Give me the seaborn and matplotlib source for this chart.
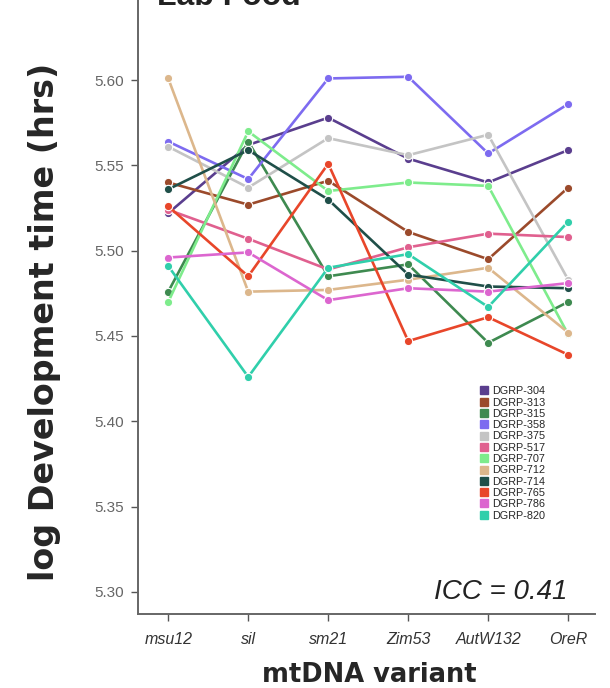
import matplotlib
matplotlib.use("Agg")
import matplotlib.pyplot as plt
import seaborn as sns
import pandas as pd
from matplotlib.lines import Line2D

variants = ['msu12', 'sil', 'sm21', 'Zim53', 'AutW132', 'OreR']
lines = ['DGRP-304', 'DGRP-313', 'DGRP-315', 'DGRP-358', 'DGRP-375', 'DGRP-517',
         'DGRP-707', 'DGRP-712', 'DGRP-714', 'DGRP-765', 'DGRP-786', 'DGRP-820']
colors = ['#5a3e8e', '#9b4a2b', '#3e8a50', '#7d6bf0', '#c4c4c4', '#e0608f',
          '#7eec8c', '#dcb78c', '#1f4f49', '#e8462a', '#dc66cf', '#30cfab']

# log development time per DGRP line, one value per mtDNA variant
dgrp_304 = [5.522, 5.562, 5.578, 5.554, 5.540, 5.559]
dgrp_313 = [5.540, 5.527, 5.541, 5.511, 5.495, 5.537]
dgrp_315 = [5.476, 5.564, 5.485, 5.492, 5.446, 5.470]
dgrp_358 = [5.564, 5.542, 5.601, 5.602, 5.557, 5.586]
dgrp_375 = [5.561, 5.537, 5.566, 5.556, 5.568, 5.483]
dgrp_517 = [5.524, 5.507, 5.489, 5.502, 5.510, 5.508]
dgrp_707 = [5.470, 5.570, 5.535, 5.540, 5.538, 5.451]
dgrp_712 = [5.601, 5.476, 5.477, 5.483, 5.490, 5.452]
dgrp_714 = [5.536, 5.559, 5.530, 5.486, 5.479, 5.478]
dgrp_765 = [5.526, 5.485, 5.551, 5.447, 5.461, 5.439]
dgrp_786 = [5.496, 5.499, 5.471, 5.478, 5.476, 5.481]
dgrp_820 = [5.491, 5.426, 5.490, 5.498, 5.467, 5.517]

all_values = [dgrp_304, dgrp_313, dgrp_315, dgrp_358, dgrp_375, dgrp_517,
              dgrp_707, dgrp_712, dgrp_714, dgrp_765, dgrp_786, dgrp_820]

rows = []
for name, vals in zip(lines, all_values):
    for v, val in zip(variants, vals):
        rows.append({'variant': v, 'line': name, 'time': val})
df = pd.DataFrame(rows)

sns.set_style('white')
plt.rcParams['font.family'] = ['Liberation Sans', 'DejaVu Sans']

fig = plt.figure(figsize=(6.1, 6.88), dpi=100)
ax = fig.add_axes([0.226, 0.1076, 0.75, 0.8924])

sns.lineplot(data=df, x='variant', y='time', hue='line', palette=colors,
             marker='o', markersize=6, markeredgecolor='white', markeredgewidth=0.8,
             linewidth=1.9, sort=False, legend=False, ax=ax)

ax.set_xlim(-0.38, 5.34)
ax.set_ylim(5.287, 5.647)
ax.set_yticks([5.30, 5.35, 5.40, 5.45, 5.50, 5.55, 5.60])
ax.set_yticklabels([f'{t:.2f}' for t in ax.get_yticks()])
ax.set_xticks(range(len(variants)))
ax.set_xticklabels(variants, fontstyle='italic')

for s in ['top', 'right']:
    ax.spines[s].set_visible(False)
for s in ['left', 'bottom']:
    ax.spines[s].set_color('#666666')
    ax.spines[s].set_linewidth(1.4)

ax.tick_params(axis='both', direction='out', length=5, width=1, color='#555555',
               left=True, bottom=True)
ax.tick_params(axis='y', pad=5, labelsize=11, labelcolor='#666666')
ax.tick_params(axis='x', pad=8, labelsize=11.5, labelcolor='#333333')

# the axis titles use a wider bold face
ax.set_xlabel('mtDNA variant', fontsize=18.5, fontweight='bold', family='DejaVu Sans')
ax.set_ylabel('log Development time (hrs)', fontsize=24, fontweight='bold',
              family='DejaVu Sans')
ax.xaxis.set_label_coords(0.505, -0.078)
ax.yaxis.set_label_coords(-0.168, 0.476)

handles = [Line2D([], [], marker='s', linestyle='none', color=c, markersize=6)
           for c in colors]
ax.legend(handles, lines, loc='upper left', bbox_to_anchor=(0.735, 0.378),
          frameon=False, fontsize=7.8, handletextpad=0.25, labelspacing=0.12,
          handlelength=1.0, borderaxespad=0)

ax.text(0.938, 0.036, 'ICC = 0.41', transform=ax.transAxes, ha='right', va='center',
        fontsize=20, fontstyle='italic', color='#222222')

fig.text(0.257, 0.9925, 'Lab Food', ha='left', va='baseline', fontsize=23,
         fontweight='bold', color='#222222')

fig.savefig('out.png', dpi=100)
